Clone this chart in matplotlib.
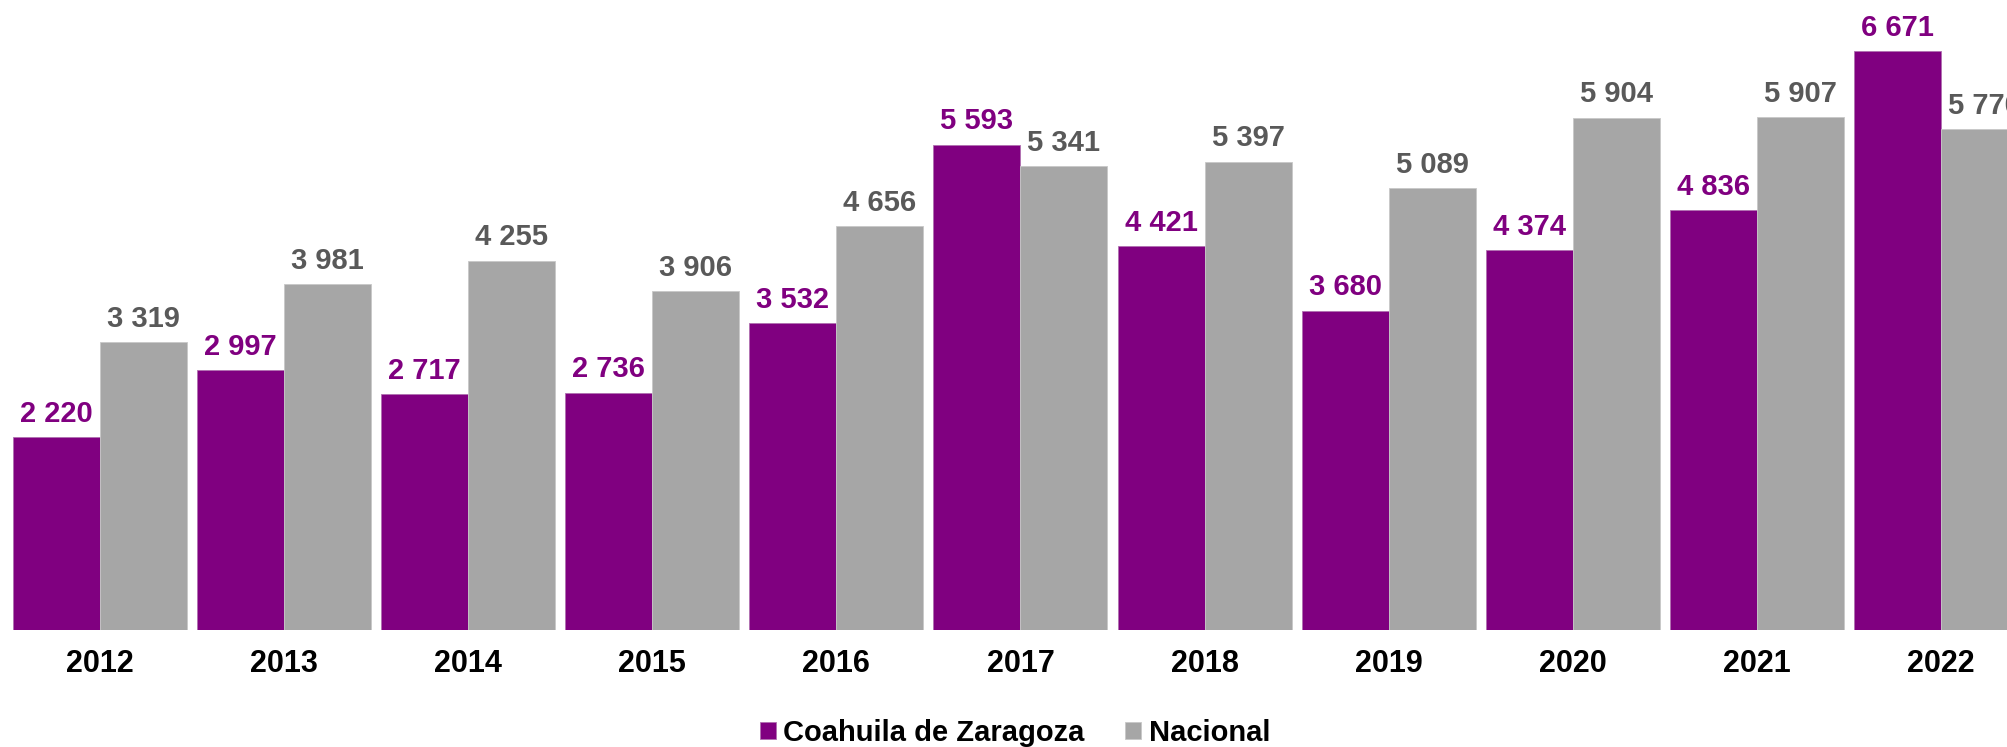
import numpy as np
import matplotlib
matplotlib.use("Agg")
import matplotlib.pyplot as plt

years = ["2012", "2013", "2014", "2015", "2016", "2017", "2018", "2019", "2020", "2021", "2022"]
coahuila = [2220, 2997, 2717, 2736, 3532, 5593, 4421, 3680, 4374, 4836, 6671]
nacional = [3319, 3981, 4255, 3906, 4656, 5341, 5397, 5089, 5904, 5907, 5770]

purple = "#800080"
gray = "#A6A6A6"

plt.rcParams["font.family"] = ["Liberation Sans", "DejaVu Sans"]

W, H = 2008, 747
fig = plt.figure(figsize=(W / 100, H / 100), dpi=100)
# axes spans whole width; baseline at 630 px from top
ax = fig.add_axes([0, 117 / H, 1, 630 / H])

pitch = 184.1
x0 = 100.0
bw = 87 / pitch
x = np.arange(len(years))

b1 = ax.bar(x - bw / 2, coahuila, width=bw, color=purple, edgecolor="#b070b0",
            linewidth=0.6, label="Coahuila de Zaragoza")
b2 = ax.bar(x + bw / 2, nacional, width=bw, color=gray, edgecolor="#c8c8c8",
            linewidth=0.6, label="Nacional")

ax.set_xlim(-x0 / pitch, (W - x0) / pitch)
ax.set_ylim(0, 630 / 0.0868)

def fmt(v):
    return f"{v:,}".replace(",", " ")

for bars, vals, col in [(b1, coahuila, purple), (b2, nacional, "#595959")]:
    for r, v in zip(bars, vals):
        ax.annotate(fmt(v), (r.get_x() + r.get_width() / 2, v), xytext=(0, 11),
                    textcoords="offset points", ha="center", va="baseline",
                    fontsize=21, fontweight="bold", color=col)

ax.set_xticks(x)
ax.set_xticklabels(years, fontsize=22, fontweight="bold", color="black")
ax.tick_params(axis="x", length=0, pad=14)
ax.set_yticks([])
for s in ax.spines.values():
    s.set_visible(False)

leg = fig.legend(handles=[b1, b2], loc="center", bbox_to_anchor=(1015 / W, 1 - 733 / H),
                 ncol=2, frameon=False, fontsize=21, handlelength=0.55, handleheight=0.55,
                 handletextpad=0.25, columnspacing=1.4)
for t in leg.get_texts():
    t.set_fontweight("bold")

fig.savefig("out.png", dpi=100)
